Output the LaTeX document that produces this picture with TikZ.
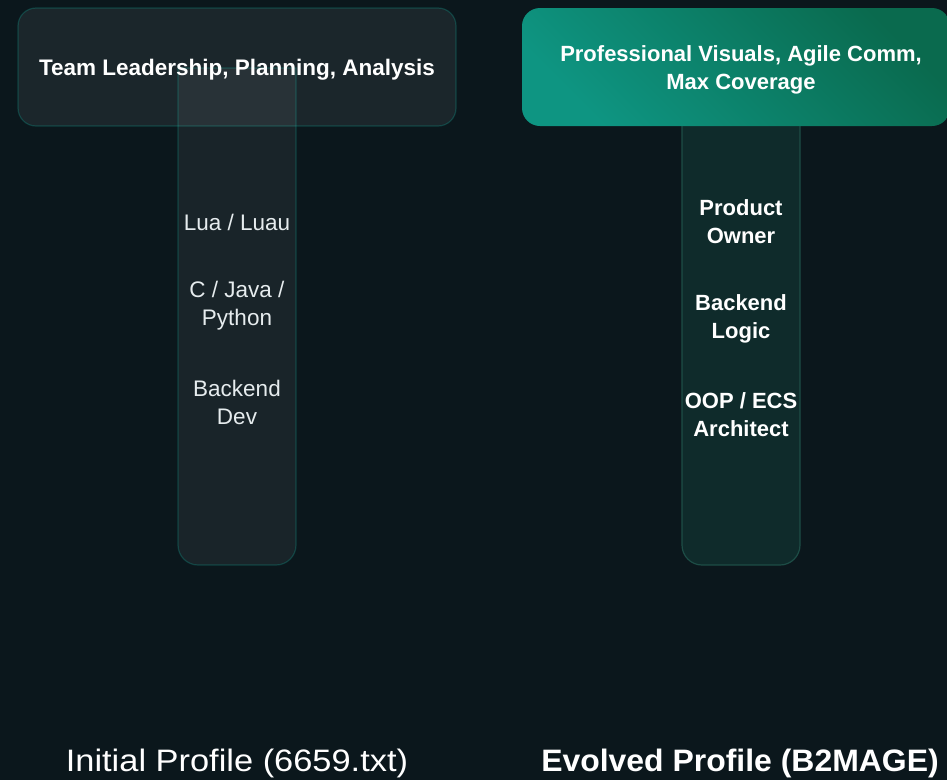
\documentclass[tikz,border=0pt]{standalone}
\usepackage{fontspec}
\setmainfont{Liberation Sans}
\usetikzlibrary{positioning}

\definecolor{bgdark}{HTML}{0B171C}
\definecolor{edgeteal}{HTML}{14B8A6}
\definecolor{stemdark}{HTML}{0F2B2B}
\definecolor{stemedge}{HTML}{1D4D46}
\definecolor{gradtop}{HTML}{0E9582}
\definecolor{gradbot}{HTML}{0A6A4E}
\definecolor{softwhite}{HTML}{E6ECEE}

\begin{document}
\begin{tikzpicture}[x=1pt, y=-1pt, node distance=96pt, on grid,
   glassbar/.style={rounded corners=18pt, line width=1.2pt, draw=edgeteal, draw opacity=0.25,
      fill=white, fill opacity=0.065, minimum width=438pt, minimum height=118pt},
   glassstem/.style={line width=1.2pt, draw=edgeteal, draw opacity=0.25, fill=white, fill opacity=0.06},
   tealbar/.style={rounded corners=18pt, shading=axis, top color=gradtop, bottom color=gradbot,
      shading angle=135, minimum width=428pt, minimum height=118pt},
   tealstem/.style={line width=1.2pt, draw=stemedge, fill=stemdark},
   skill/.style={text=softwhite, align=center, font=\fontsize{22.5}{28}\selectfont},
   skillbold/.style={text=white, align=center, font=\fontsize{22}{28}\selectfont\bfseries},
   headtext/.style={text=white, align=center, font=\fontsize{22.5}{28}\selectfont\bfseries},
   caption/.style={text=white, font=\fontsize{31}{36}\selectfont}]

   \fill[bgdark] (0,0) rectangle (947,780);
   \useasboundingbox (0,0) rectangle (947,780);

   % left profile
   \node[glassbar] (leftbar) at (237,67) {};
   \draw[glassstem] (178,68) [rounded corners=20pt] -- (178,565) -- (296,565) [sharp corners] -- (296,68) -- cycle;
   \node[headtext] (lefthead) at (237,70) {Team Leadership, Planning, Analysis};
   \node[skill] (lua) at (237,222) {Lua / Luau};
   \node[skill] (cjava) [below=84pt of lua] {C / Java /\\Python};
   \node[skill] (backdev) [below=of cjava] {Backend\\Dev};

   % evolved profile
   \draw[tealstem] (682,100) [rounded corners=20pt] -- (682,565) -- (800,565) [sharp corners] -- (800,100);
   \node[tealbar] (rightbar) at (736,67) {};
   \node[headtext, font=\fontsize{22}{28}\selectfont\bfseries] (righthead) at (741,70) {Professional Visuals, Agile Comm,\\Max Coverage};
   \node[skillbold] (owner) at (741,222) {Product\\Owner};
   \node[skillbold] (logic) [below=97pt of owner] {Backend\\Logic};
   \node[skillbold] (arch) [below=of logic] {OOP / ECS\\Architect};

   % captions
   \node[caption, xscale=1.11] (initial) at (237,763) {Initial Profile (6659.txt)};
   \node[caption, xscale=1.03, font=\fontsize{31}{36}\selectfont\bfseries] (evolved) at (740,763) {Evolved Profile (B2MAGE)};
\end{tikzpicture}
\end{document}
